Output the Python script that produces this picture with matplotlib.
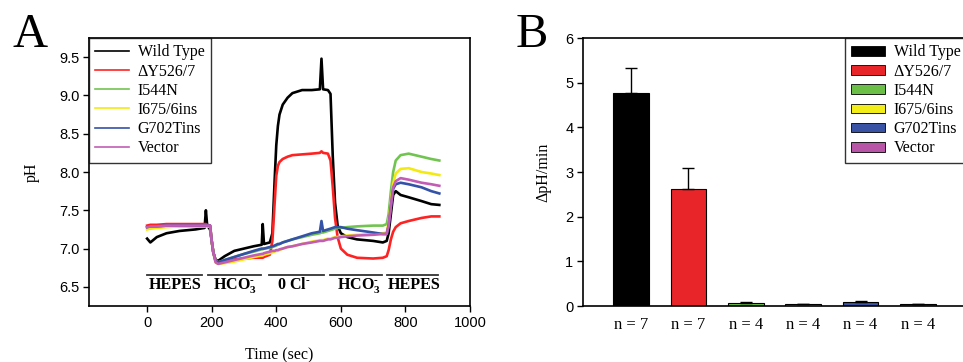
import matplotlib
matplotlib.use("Agg")
import matplotlib.pyplot as plt
from matplotlib.patches import Patch

# ---------------- data ----------------
series_names = ["Wild Type", "\u0394Y526/7", "I544N", "I675/6ins", "G702Tins", "Vector"]
line_colors = ["#000000", "#ff2222", "#72c451", "#f3ea12", "#3352a8", "#c25cb5"]
bar_colors = ["#000000", "#e82528", "#6cbf46", "#f2ec19", "#3a52a3", "#b855a7"]

time_s = [0, 10, 30, 60, 100, 150, 178, 182, 186, 195, 200, 205, 212, 220, 240,
          270, 300, 330, 355, 358, 362, 380, 388, 395, 400, 405, 410, 420, 435, 450,
          480, 510, 535, 540, 545, 560, 568, 575, 582, 590, 600, 620, 650, 700, 730,
          742, 748, 755, 762, 770, 785, 810, 850, 880, 905]

ph_wt = [7.13, 7.08, 7.15, 7.20, 7.23, 7.25, 7.27, 7.50, 7.30, 7.25,
         7.10, 6.95, 6.85, 6.84, 6.90, 6.97, 7.00, 7.03, 7.05, 7.32,
         7.06, 7.08, 7.20, 7.90, 8.35, 8.60, 8.75, 8.88, 8.97, 9.03,
         9.07, 9.07, 9.08, 9.48, 9.08, 9.07, 9.02, 8.20, 7.60, 7.30,
         7.20, 7.15, 7.12, 7.10, 7.08, 7.10, 7.20, 7.45, 7.70, 7.75,
         7.70, 7.67, 7.62, 7.58, 7.57]
ph_dy = [7.30, 7.31, 7.31, 7.32, 7.32, 7.32, 7.32, 7.32, 7.31, 7.30,
         7.10, 6.95, 6.85, 6.82, 6.84, 6.86, 6.87, 6.88, 6.88, 6.88,
         6.89, 6.92, 7.10, 7.60, 7.95, 8.08, 8.13, 8.17, 8.20, 8.22,
         8.23, 8.24, 8.25, 8.27, 8.25, 8.24, 8.15, 7.80, 7.40, 7.15,
         7.00, 6.92, 6.88, 6.87, 6.88, 6.90, 6.98, 7.12, 7.22, 7.28,
         7.33, 7.36, 7.40, 7.42, 7.42]
ph_i544n = [7.27, 7.28, 7.28, 7.29, 7.29, 7.29, 7.29, 7.30, 7.29, 7.29,
            7.10, 6.95, 6.84, 6.82, 6.85, 6.89, 6.93, 6.96, 6.99, 6.99,
            7.00, 7.01, 7.02, 7.03, 7.04, 7.05, 7.06, 7.08, 7.10, 7.12,
            7.15, 7.18, 7.20, 7.21, 7.21, 7.23, 7.24, 7.25, 7.26, 7.27,
            7.27, 7.28, 7.29, 7.30, 7.30, 7.32, 7.45, 7.75, 8.00, 8.15,
            8.22, 8.24, 8.20, 8.17, 8.15]
ph_i675 = [7.25, 7.26, 7.27, 7.28, 7.29, 7.29, 7.29, 7.29, 7.29, 7.29,
           7.10, 6.95, 6.82, 6.80, 6.81, 6.83, 6.86, 6.89, 6.91, 6.91,
           6.92, 6.94, 6.95, 6.96, 6.97, 6.97, 6.98, 7.00, 7.02, 7.03,
           7.06, 7.09, 7.11, 7.11, 7.11, 7.13, 7.13, 7.14, 7.15, 7.15,
           7.16, 7.17, 7.18, 7.19, 7.20, 7.21, 7.35, 7.60, 7.85, 7.98,
           8.04, 8.05, 8.00, 7.98, 7.96]
ph_g702 = [7.28, 7.29, 7.29, 7.30, 7.30, 7.30, 7.30, 7.30, 7.30, 7.30,
           7.10, 6.95, 6.84, 6.82, 6.85, 6.89, 6.93, 6.97, 7.00, 7.00,
           7.00, 7.02, 7.03, 7.04, 7.05, 7.06, 7.06, 7.08, 7.10, 7.12,
           7.16, 7.20, 7.22, 7.36, 7.23, 7.25, 7.26, 7.27, 7.28, 7.28,
           7.28, 7.26, 7.24, 7.21, 7.19, 7.19, 7.30, 7.55, 7.78, 7.84,
           7.86, 7.84, 7.80, 7.75, 7.72]
ph_vector = [7.28, 7.29, 7.29, 7.30, 7.30, 7.30, 7.30, 7.30, 7.30, 7.30,
             7.10, 6.95, 6.82, 6.80, 6.82, 6.85, 6.88, 6.91, 6.93, 6.93,
             6.94, 6.96, 6.97, 6.97, 6.98, 6.98, 6.99, 7.00, 7.02, 7.03,
             7.06, 7.08, 7.10, 7.10, 7.10, 7.12, 7.12, 7.13, 7.14, 7.14,
             7.15, 7.16, 7.17, 7.18, 7.19, 7.19, 7.30, 7.55, 7.80, 7.88,
             7.92, 7.90, 7.86, 7.84, 7.82]
ph_series = [ph_wt, ph_dy, ph_i544n, ph_i675, ph_g702, ph_vector]

solution_labels = ["HEPES", "HCO$_3^{\\text{-}}$", "0 Cl$^{\\text{-}}$", "HCO$_3^{\\text{-}}$", "HEPES"]
solution_start = [0, 190, 377, 566, 744]
solution_end = [170, 354, 549, 726, 900]
solution_text_x = [88, 272, 455, 656, 826]

rate_values = [4.77, 2.62, 0.07, 0.05, 0.09, 0.04]
rate_errors = [0.55, 0.48, 0.01, 0.005, 0.012, 0.01]
bar_labels = ["n = 7", "n = 7", "n = 4", "n = 4", "n = 4", "n = 4"]

# ---------------- style ----------------
plt.rcParams["font.family"] = ["Liberation Serif", "DejaVu Serif"]
plt.rcParams["mathtext.fontset"] = "custom"
plt.rcParams["mathtext.rm"] = "Liberation Serif:bold"
plt.rcParams["mathtext.bf"] = "Liberation Serif:bold"
plt.rcParams["mathtext.it"] = "Liberation Serif:bold"
plt.rcParams["mathtext.default"] = "rm"

W, H = 963, 362
fig = plt.figure(figsize=(W / 100, H / 100), dpi=100)

def box(l, t, r, b):
    return [l / W, 1 - b / H, (r - l) / W, (b - t) / H]

# ---------------- panel A ----------------
axA = fig.add_axes(box(89, 38, 470, 306))
for ph, c, name in zip(ph_series, line_colors, series_names):
    axA.plot(time_s, ph, color=c, lw=1.9, label=name)
axA.set_xlim(-180, 1000)
axA.set_ylim(6.25, 9.75)
axA.set_xticks([0, 200, 400, 600, 800, 1000])
axA.set_yticks([6.5, 7.0, 7.5, 8.0, 8.5, 9.0, 9.5])
axA.set_yticklabels(["6.5", "7.0", "7.5", "8.0", "8.5", "9.0", "9.5"])
axA.tick_params(direction="out", length=4, width=1, pad=3)
for lab in axA.get_xticklabels() + axA.get_yticklabels():
    lab.set_fontfamily("Liberation Sans")
    lab.set_fontsize(10.5)
for sp in axA.spines.values():
    sp.set_linewidth(1.2)
axA.set_xlabel("Time (sec)", fontsize=11.5, labelpad=13)
axA.set_ylabel("pH", fontsize=11.5, labelpad=14)

for s, e, tx, lab in zip(solution_start, solution_end, solution_text_x, solution_labels):
    axA.plot([s, e], [6.66, 6.66], color="#333333", lw=1.3)
    axA.text(tx, 6.52, lab, ha="center", va="center", fontsize=11.5, fontweight="bold")

legA = axA.legend(loc="upper left", bbox_to_anchor=(0.0, 1.0), fontsize=11.5,
                  frameon=True, fancybox=False, edgecolor="black",
                  handlelength=2.1, handletextpad=0.55, labelspacing=0.2,
                  borderpad=0.4, borderaxespad=0.0)
legA.get_frame().set_linewidth(1.0)
for ln in legA.get_lines():
    ln.set_linewidth(1.2)

# ---------------- panel B ----------------
axB = fig.add_axes(box(583, 38, 965, 306))
xpos = list(range(len(rate_values)))
axB.bar(xpos, rate_values, width=0.62, color=bar_colors, edgecolor="black",
        linewidth=0.8, zorder=2)
axB.errorbar(xpos, rate_values, yerr=[[0] * len(rate_errors), rate_errors],
             fmt="none", ecolor="black", elinewidth=1.0, capsize=4, capthick=1.0,
             zorder=3)
axB.set_xlim(-0.836, 5.82)
axB.set_ylim(0, 6)
axB.set_yticks([0, 1, 2, 3, 4, 5, 6])
axB.set_xticks(xpos)
axB.set_xticklabels(bar_labels, fontsize=12)
axB.tick_params(axis="x", length=0, pad=8)
axB.tick_params(axis="y", direction="out", length=4, width=1, pad=3)
for lab in axB.get_yticklabels():
    lab.set_fontfamily("Liberation Sans")
    lab.set_fontsize(10.5)
for sp in axB.spines.values():
    sp.set_linewidth(1.2)
axB.spines["right"].set_visible(False)
axB.set_ylabel("\u0394pH/min", fontsize=11.5, labelpad=10)

handles = [Patch(facecolor=c, edgecolor="black", linewidth=0.6) for c in bar_colors]
legB = axB.legend(handles, series_names, loc="upper right", bbox_to_anchor=(1.005, 1.0),
                  fontsize=11.5, frameon=True, fancybox=False, edgecolor="black",
                  handlelength=2.1, handleheight=0.55, handletextpad=0.55,
                  labelspacing=0.2, borderpad=0.4, borderaxespad=0.0)
legB.get_frame().set_linewidth(1.0)

# panel letters
fig.text(12 / W, 1 - 47 / H, "A", fontsize=35, ha="left", va="baseline")
fig.text(516 / W, 1 - 47 / H, "B", fontsize=35, ha="left", va="baseline")

fig.savefig("out.png", dpi=100)
